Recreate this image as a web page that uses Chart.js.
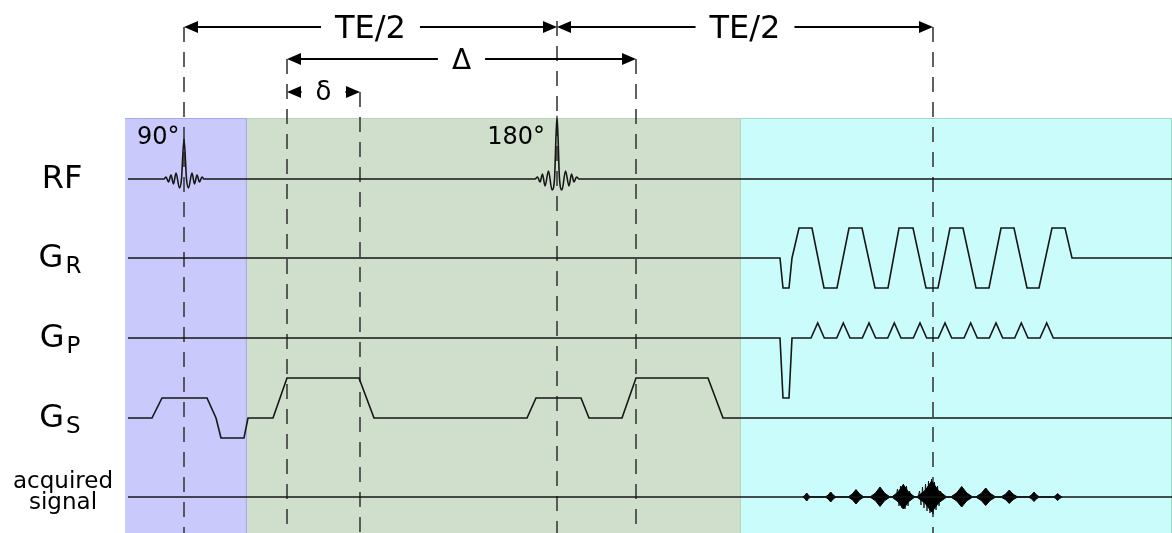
<!DOCTYPE html>
<html>
<head>
<meta charset="utf-8">
<script src="https://cdn.jsdelivr.net/npm/chart.js@4.4.0/dist/chart.umd.min.js"></script>
<style>
  html, body { margin: 0; padding: 0; background: #fff; }
  #wrap { width: 1172px; height: 533px; }
</style>
</head>
<body>
<div id="wrap"><canvas id="seq" width="1172" height="533"></canvas></div>
<script>
// timing of the sequence (horizontal units)
const t90 = 184, t180 = 557, tEcho = 933;
const gradOn = 287, gradOff = 360, grad2On = 636;
const tStart = 128, tEnd = 1172;

// RF pulse shapes: [time offset, amplitude]
const rfPulse90 = [[-20,0],[-18,2],[-15.5,-3],[-13,4],[-10.5,-5],[-8,6],[-4.5,-9],[-2.5,0],[0,40],[2.5,0],[4.5,-9],[8,6],[10.5,-5],[13,4],[15.5,-3],[18,2],[20,0]];
const rfPulse180 = [[-22,0],[-19.5,2],[-17,-3],[-14.5,5],[-12,-7],[-8.5,8],[-5,-11],[-2.5,0],[0,63],[2.5,0],[5,-11],[8.5,8],[12,-7],[14.5,5],[17,-3],[19.5,2],[22,0]];

// gradient waveforms: [time, amplitude]
const gReadout = [[tStart,0],[780,0],[783,-30],[789,-30],[792,0],[799,30],[812,30],[824,-30],[837,-30],[849,30],[862,30],[875,-30],[888,-30],[899,30],[913,30],[926,-30],[938,-30],[950,30],[963,30],[976,-30],[989,-30],[1001,30],[1014,30],[1027,-30],[1039,-30],[1052,30],[1065,30],[1072,0],[tEnd,0]];
const gPhase = [[tStart,0],[780,0],[783,-60],[789,-60],[792,0],
  [811,0],[817.7,15],[824.3,0],[836.7,0],[843.3,15],[850,0],[862.3,0],[869,15],[875.7,0],
  [887.7,0],[894.3,15],[901,0],[913.3,0],[920,15],[926.7,0],[938.3,0],[945,15],[951.7,0],
  [964,0],[970.7,15],[977.3,0],[989.3,0],[996,15],[1002.7,0],[1014.7,0],[1021.3,15],[1028,0],
  [1040,0],[1046.7,15],[1053.3,0],[tEnd,0]];
const gSlice = [[tStart,0],[152,0],[162,20],[207,20],[216,0],[221,-20],[244,-20],[248,0],
  [273,0],[287,40],[359,40],[374,0],[527,0],[536,20],[581,20],[589,0],
  [622,0],[636,40],[708,40],[723,0],[tEnd,0]];

// echo lobes of the acquired signal
const echoCentres = [806.7, 830.7, 856, 880, 903.3, 931.7, 961.7, 985.7, 1009.3, 1034, 1057.7];
const echoHalfWidths = [4, 5.5, 8, 10, 11.5, 15, 11, 10, 8.5, 5.5, 4.5];
const echoUp = [4, 5, 7.5, 10, 12.5, 16, 10.5, 9, 7, 5, 3.5];
const echoDown = [4, 5, 7, 9.5, 12, 15, 10, 8.5, 6.5, 4.5, 3.5];
// carrier spikes poking out of the two central lobes: [time, amplitude]
const echoSpikes = [[896,0],[897.5,8],[899,-9],[900.5,11],[902,-11],[903.5,13],[905,-12],[906.5,11],[908,-9],[909.5,6],[911,0],
  [918,0],[919.5,6],[921,-8],[922.5,10],[924,-11],[925.5,13],[927,-14],[928.5,16],[930,-16],[931.5,18],[933,-17],[934.5,15],[936,-13],[937.5,11],[939,-9],[940.5,6],[942,0]];

// rows
const rowLevel = { rf: 179, gr: 258, gp: 338, gs: 418, sig: 497 };

function toPoints(level, pairs, t0) {
  return pairs.map(([t, a]) => ({ x: (t0 || 0) + t, y: level - a }));
}

const rfLine = [{ x: tStart, y: rowLevel.rf }]
  .concat(toPoints(rowLevel.rf, rfPulse90, t90))
  .concat(toPoints(rowLevel.rf, rfPulse180, t180))
  .concat([{ x: tEnd, y: rowLevel.rf }]);

function envelope(sign, amps) {
  const pts = [];
  echoCentres.forEach((c, i) => {
    const w = echoHalfWidths[i], a = amps[i] * sign;
    pts.push({ x: c - w, y: rowLevel.sig }, { x: c - 0.45 * w, y: rowLevel.sig - 0.4 * a },
      { x: c, y: rowLevel.sig - a }, { x: c + 0.45 * w, y: rowLevel.sig - 0.4 * a },
      { x: c + w, y: rowLevel.sig });
  });
  return pts;
}

const ink = '#161616';
const line = (data, extra) => Object.assign({ data, borderColor: ink, borderWidth: 1.6, pointRadius: 0, fill: false }, extra || {});

const phases = [
  { from: 125, to: 247, fill: '#c9c9fb', edge: '#a8a8ee' },
  { from: 247, to: 741, fill: '#cfdfcb', edge: '#b7d2bd' },
  { from: 741, to: 1172, fill: '#cbfcfc', edge: '#9edcc8' }
];
const phaseTop = 118;

const markers = [
  { t: t90, top: 27 }, { t: gradOn, top: 59 }, { t: gradOff, top: 92 },
  { t: t180, top: 21 }, { t: grad2On, top: 59 }, { t: tEcho, top: 27 }
];

const dims = [
  { from: t90, to: t180, row: 27, label: 'TE/2', size: 32, base: 38 },
  { from: t180, to: tEcho, row: 27, label: 'TE/2', size: 32, base: 38 },
  { from: gradOn, to: grad2On, row: 59, label: 'Δ', size: 28, base: 69 },
  { from: gradOn, to: gradOff, row: 92, label: 'δ', size: 26, base: 100 }
];

const rowLabels = [
  { main: 'RF', sub: '', level: rowLevel.rf },
  { main: 'G', sub: 'R', level: rowLevel.gr },
  { main: 'G', sub: 'P', level: rowLevel.gp },
  { main: 'G', sub: 'S', level: rowLevel.gs }
];

const font = '"DejaVu Sans", sans-serif';

function arrowHead(ctx, x, y, dir) {
  ctx.beginPath();
  ctx.moveTo(x, y);
  ctx.lineTo(x - dir * 14, y - 6);
  ctx.lineTo(x - dir * 14, y + 6);
  ctx.closePath();
  ctx.fill();
}

const diagram = {
  id: 'diagram',
  beforeDatasetsDraw(chart) {
    const { ctx, scales: { x, y } } = chart;
    ctx.save();
    const top = y.getPixelForValue(phaseTop);
    phases.forEach(p => {
      const x0 = x.getPixelForValue(p.from), x1 = x.getPixelForValue(p.to);
      ctx.fillStyle = p.fill;
      ctx.fillRect(x0, top, x1 - x0, chart.height - top);
      ctx.strokeStyle = p.edge;
      ctx.lineWidth = 1.2;
      ctx.beginPath();
      ctx.moveTo(x0, top + 0.5); ctx.lineTo(x1, top + 0.5);
      ctx.moveTo(x1 - 0.5, top); ctx.lineTo(x1 - 0.5, chart.height);
      ctx.stroke();
    });
    ctx.setLineDash([15, 10]);
    ctx.strokeStyle = '#3a3a3a';
    ctx.lineWidth = 1.6;
    markers.forEach(m => {
      const px = Math.round(x.getPixelForValue(m.t));
      ctx.beginPath();
      ctx.moveTo(px, y.getPixelForValue(m.top));
      ctx.lineTo(px, chart.height);
      ctx.stroke();
    });
    ctx.restore();
  },
  afterDatasetsDraw(chart) {
    const { ctx, scales: { x, y } } = chart;
    ctx.save();
    ctx.fillStyle = '#000';
    ctx.strokeStyle = '#000';
    ctx.lineWidth = 2;
    dims.forEach(d => {
      const x0 = x.getPixelForValue(d.from), x1 = x.getPixelForValue(d.to);
      const py = y.getPixelForValue(d.row), mid = (x0 + x1) / 2;
      ctx.font = d.size + 'px ' + font;
      const w = ctx.measureText(d.label).width;
      ctx.beginPath();
      ctx.moveTo(x0 + 4, py); ctx.lineTo(mid - w / 2 - 14, py);
      ctx.moveTo(mid + w / 2 + 14, py); ctx.lineTo(x1 - 4, py);
      ctx.stroke();
      arrowHead(ctx, x0, py, -1);
      arrowHead(ctx, x1, py, 1);
      ctx.textAlign = 'center';
      ctx.textBaseline = 'alphabetic';
      ctx.fillText(d.label, mid, y.getPixelForValue(d.base));
    });

    // flip angles
    ctx.font = '24px ' + font;
    ctx.textAlign = 'left';
    ctx.fillText('90°', x.getPixelForValue(t90) - 47, 144);
    ctx.textAlign = 'right';
    ctx.fillText('180°', x.getPixelForValue(t180) - 12, 144);

    // channel names
    rowLabels.forEach(r => {
      const py = y.getPixelForValue(r.level);
      ctx.textAlign = 'left';
      ctx.font = '32px ' + font;
      if (!r.sub) {
        ctx.textAlign = 'center';
        ctx.fillText(r.main, 62, py + 9);
        return;
      }
      const gw = ctx.measureText(r.main).width;
      ctx.font = '23px ' + font;
      const sw = ctx.measureText(r.sub).width;
      const start = 60 - (gw + 2 + sw) / 2;
      ctx.font = '32px ' + font;
      ctx.fillText(r.main, start, py + 9);
      ctx.font = '23px ' + font;
      ctx.fillText(r.sub, start + gw + 2, py + 15);
    });
    ctx.font = '23px ' + font;
    ctx.textAlign = 'center';
    ctx.fillText('acquired', 63, 488);
    ctx.fillText('signal', 63, 509);
    ctx.restore();
  }
};

new Chart(document.getElementById('seq'), {
  type: 'line',
  data: {
    datasets: [
      line(rfLine, { cubicInterpolationMode: 'monotone' }),
      line(toPoints(rowLevel.gr, gReadout)),
      line(toPoints(rowLevel.gp, gPhase)),
      line(toPoints(rowLevel.gs, gSlice)),
      line([{ x: tStart, y: rowLevel.sig }, { x: tEnd, y: rowLevel.sig }]),
      line(envelope(1, echoUp), { borderWidth: 1, fill: '+1', backgroundColor: '#000', borderColor: '#000' }),
      line(envelope(-1, echoDown), { borderWidth: 1, borderColor: '#000' }),
      line(toPoints(rowLevel.sig, echoSpikes), { borderWidth: 0.8, borderColor: '#000' })
    ]
  },
  options: {
    responsive: false,
    animation: false,
    devicePixelRatio: 1,
    layout: { padding: 0 },
    plugins: { legend: { display: false }, tooltip: { enabled: false } },
    scales: {
      x: { type: 'linear', min: 0, max: 1172, display: false },
      y: { type: 'linear', min: 0, max: 533, reverse: true, display: false }
    },
    elements: { line: { tension: 0 } }
  },
  plugins: [diagram]
});
</script>
</body>
</html>
